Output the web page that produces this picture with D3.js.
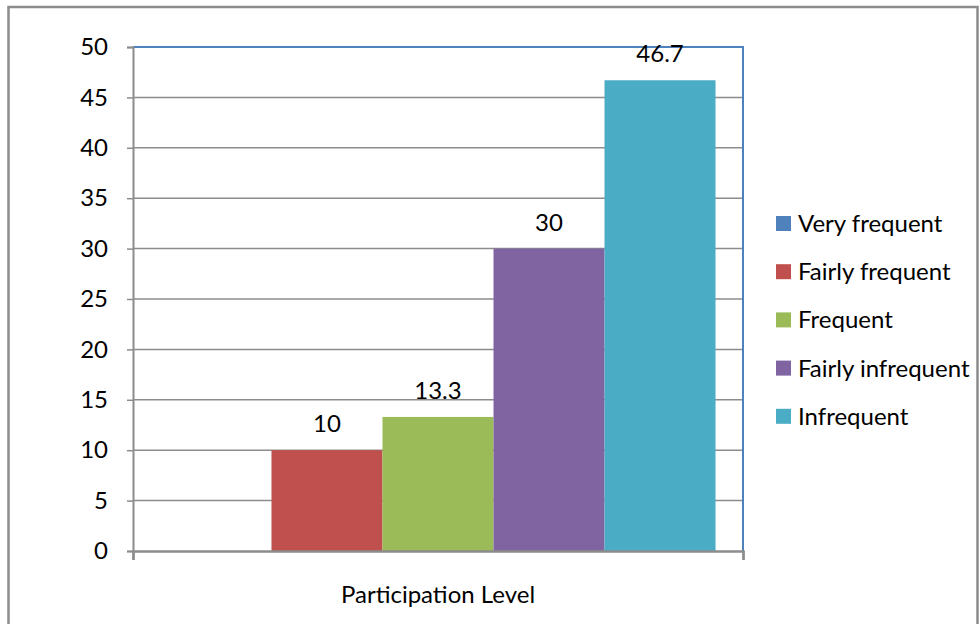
<!DOCTYPE html>
<html>
<head>
<meta charset="utf-8">
<script src="https://cdn.jsdelivr.net/npm/d3@7"></script>
<style>
  body { margin: 0; background: #fff; }
  text { font-family: Lato, "Open Sans", sans-serif; fill: #000; }
</style>
</head>
<body>
<div id="chart"></div>
<script>
// data
var categories = ["Very frequent", "Fairly frequent", "Frequent", "Fairly infrequent", "Infrequent"]
var values = [0, 10, 13.3, 30, 46.7]
var colors = ["#4f81bd", "#c0504d", "#9bbb59", "#8064a2", "#4bacc6"]
var yTicks = [0, 5, 10, 15, 20, 25, 30, 35, 40, 45, 50]
var groupLabel = "Participation Level"

var width = 979,
    height = 624,
    fontSize = "24px"

var plot = {left: 133, right: 743, top: 47, bottom: 551}

var svg = d3.select("#chart")
  .append("svg")
  .attr("width", width)
  .attr("height", height)

// outer chart frame
svg.append("rect")
  .attr("x", 8.5).attr("y", 7)
  .attr("width", 969).attr("height", 700)
  .attr("fill", "none")
  .attr("stroke", "#8c8c8c")
  .attr("stroke-width", 2.5)

var y = d3.scaleLinear().domain([0, 50]).range([plot.bottom, plot.top])

var x0 = d3.scaleBand().domain([groupLabel]).range([plot.left, plot.right]).paddingInner(0).paddingOuter(0.0495)
var x1 = d3.scaleBand().domain(categories).range([0, x0.bandwidth()]).padding(0)

// gridlines
svg.append("g")
  .selectAll("line")
  .data(yTicks.slice(1, -1))
  .enter().append("line")
  .attr("x1", plot.left).attr("x2", plot.right)
  .attr("y1", function(d){return y(d)}).attr("y2", function(d){return y(d)})
  .attr("stroke", "#8c8c8c")
  .attr("stroke-width", 1.5)

// bars
svg.append("g")
  .selectAll("rect")
  .data(values)
  .enter().append("rect")
  .attr("x", function(d, i){return x0(groupLabel) + x1(categories[i])})
  .attr("y", function(d){return y(d)})
  .attr("width", x1.bandwidth())
  .attr("height", function(d){return y(0) - y(d)})
  .attr("fill", function(d, i){return colors[i]})

// top/right plot border (blue)
svg.append("path")
  .attr("d", "M" + plot.left + "," + plot.top + "H" + plot.right + "V" + plot.bottom)
  .attr("fill", "none")
  .attr("stroke", "#4f81bd")
  .attr("stroke-width", 2)

// y axis
var yAxis = d3.axisLeft(y).tickValues(yTicks).tickSize(6).tickPadding(19).tickFormat(d3.format("d"))
var gy = svg.append("g")
  .attr("transform", "translate(" + plot.left + ",0)")
  .call(yAxis)
gy.select(".domain").attr("stroke", "#8c8c8c").attr("stroke-width", 2)
gy.selectAll(".tick line").attr("stroke", "#8c8c8c").attr("stroke-width", 1.5)
gy.selectAll(".tick text")
  .style("font-family", "Lato, 'Open Sans', sans-serif")
  .style("font-size", fontSize)
  .attr("fill", "#000")

// x axis
var x = d3.scaleLinear().domain([0, 1]).range([plot.left, plot.right])
var gx = svg.append("g")
  .attr("transform", "translate(0," + plot.bottom + ")")
  .call(d3.axisBottom(x).tickValues([0, 1]).tickSize(9).tickFormat(""))
gx.select(".domain").attr("stroke", "#8c8c8c").attr("stroke-width", 2.5)
gx.selectAll(".tick line").attr("stroke", "#8c8c8c").attr("stroke-width", 2)

svg.append("text")
  .attr("x", (plot.left + plot.right) / 2)
  .attr("y", 603)
  .attr("text-anchor", "middle")
  .style("font-size", fontSize)
  .text(groupLabel)

// value labels
svg.append("g")
  .selectAll("text")
  .data(values)
  .enter().filter(function(d){return d > 0}).append("text")
  .attr("x", function(d){return x0(groupLabel) + x1(categories[values.indexOf(d)]) + x1.bandwidth() / 2})
  .attr("y", function(d){return y(d) - 18})
  .attr("text-anchor", "middle")
  .style("font-size", fontSize)
  .text(function(d){return d})

// legend
var legend = svg.append("g")
  .selectAll("g")
  .data(categories)
  .enter().append("g")
  .attr("transform", function(d, i){return "translate(776," + (216 + i * 48.2) + ")"})
legend.append("rect")
  .attr("width", 15).attr("height", 15)
  .attr("fill", function(d, i){return colors[i]})
legend.append("text")
  .attr("x", 22).attr("y", 16)
  .style("font-size", fontSize)
  .text(function(d){return d})
</script>
</body>
</html>
